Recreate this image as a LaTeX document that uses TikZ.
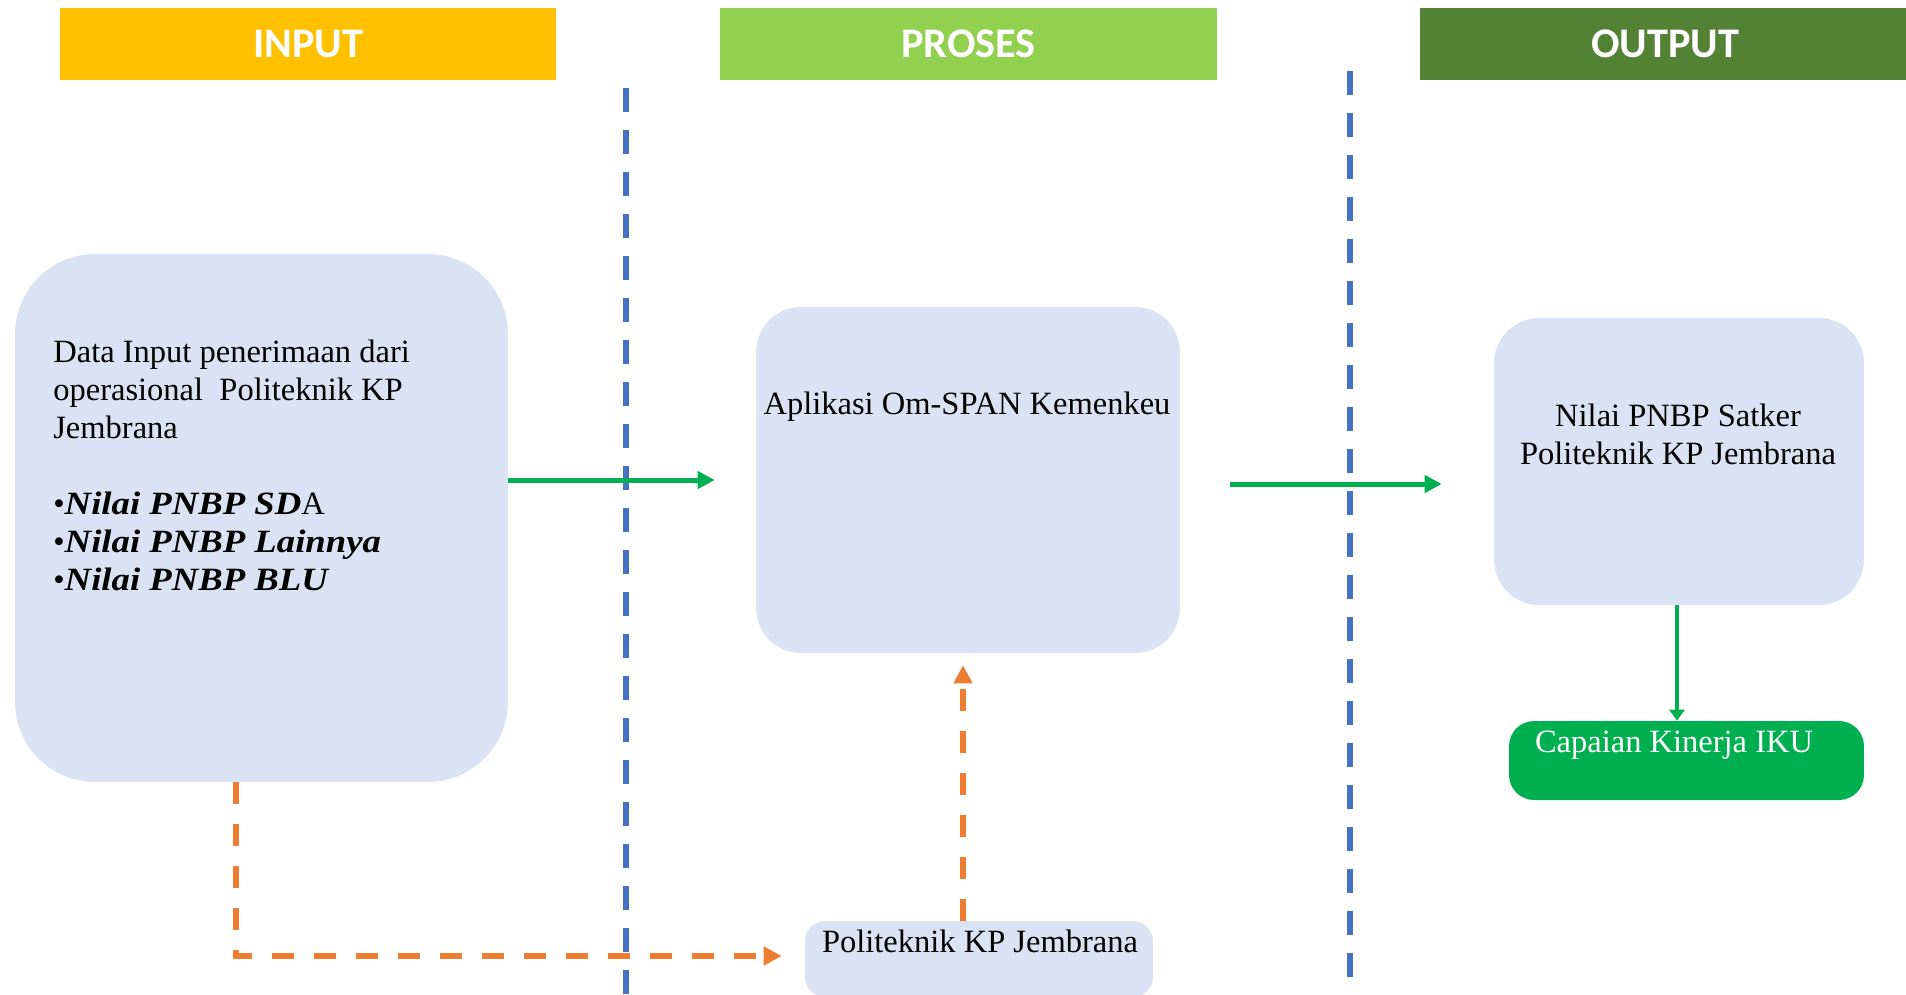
\documentclass[tikz,border=0pt]{standalone}
\usepackage{fontspec}
\setmainfont{Liberation Serif}
\newfontfamily\headfont{Carlito}
\newfontfamily\wideserif{Liberation Serif}[FakeStretch=1.13]
\usetikzlibrary{arrows.meta}
\definecolor{inputyellow}{HTML}{FFC000}
\definecolor{prosesgreen}{HTML}{92D050}
\definecolor{outgreen}{HTML}{548235}
\definecolor{boxblue}{HTML}{DAE3F3}
\definecolor{laneblue}{HTML}{4472C4}
\definecolor{flowgreen}{HTML}{00B050}
\definecolor{feedorange}{HTML}{ED7D31}
\begin{document}
\begin{tikzpicture}[x=0.02cm, y=-0.02cm,
                    every node/.style={inner sep=0pt},
                    headbox/.style={minimum height=1.44cm, text=white,
                                    font=\headfont\bfseries\fontsize{24}{28}\selectfont},
                    databox/.style={fill=boxblue},
                    bodytext/.style={font=\fontsize{18.5}{21.6}\selectfont},
                    lane/.style={draw=laneblue, line width=0.11cm,
                                 dash pattern=on 0.48cm off 0.36cm},
                    flow/.style={draw=flowgreen, line width=0.1cm,
                                 -{Triangle[length=0.34cm,width=0.34cm]}},
                    feed/.style={draw=feedorange, line width=0.12cm,
                                 dash pattern=on 0.44cm off 0.4cm,
                                 -{Triangle[length=0.36cm,width=0.36cm]}},]
    \clip (0,0) rectangle (1906,994);
    \node[headbox, fill=inputyellow, minimum width=9.92cm] (inhead) at (308,44) {INPUT};
    \node[headbox, fill=prosesgreen, minimum width=9.94cm] (prochead) at (968.5,44) {PROSES};
    \node[headbox, fill=outgreen, minimum width=9.8cm] (outhead) at (1665,44) {OUTPUT};
    \draw[lane] (626,88) -- (626,994);
    \draw[lane] (1350,71) -- (1350,977);
    \node[databox, rounded corners=1.6cm, minimum width=9.86cm, minimum height=10.56cm] (inbox) at (261.5,518) {};
    \node[databox, rounded corners=0.9cm, minimum width=8.48cm, minimum height=6.92cm] (procbox) at (968,480) {};
    \node[databox, rounded corners=0.9cm, minimum width=7.4cm, minimum height=5.74cm] (outbox) at (1679,461.5) {};
    \node[fill=flowgreen, rounded corners=0.5cm, minimum width=7.1cm, minimum height=1.58cm] (capbox) at (1686.5,760.5) {};
    \node[databox, rounded corners=0.4cm, minimum width=6.96cm, minimum height=1.52cm] (polbox) at (979,959) {};
    \node[bodytext, anchor=north west, align=left] (intext) at (53,340)
        {Data Input penerimaan dari\\operasional~ Politeknik KP\\Jembrana\\[21.6pt]
         •{\wideserif\bfseries\itshape Nilai PNBP SD}A\\•{\wideserif\bfseries\itshape Nilai PNBP Lainnya}\\•{\wideserif\bfseries\itshape Nilai PNBP BLU}};
    \node[bodytext, anchor=base] (proctext) at (967,414) {Aplikasi Om-SPAN Kemenkeu};
    \node[bodytext, anchor=north, align=center] (outtext) at (1678,404)
        {Nilai PNBP Satker\\Politeknik KP Jembrana};
    \node[bodytext, anchor=base, text=white] (captext) at (1674,752) {Capaian Kinerja IKU};
    \node[bodytext, anchor=base] (poltext) at (980,952) {Politeknik KP Jembrana};
    \draw[flow, shorten >=0.82cm] (inbox.east |- procbox.west) -- (procbox.west);
    \draw[flow, shorten <=1cm, shorten >=1.04cm] ([yshift=-0.08cm]procbox.east) -- ([yshift=-0.08cm]procbox.east -| outbox.west);
    \draw[flow, line width=0.08cm, -{Triangle[length=0.22cm,width=0.3cm]}] (outbox.south -| 1677,0) -- (capbox.north -| 1677,0);
    \draw[feed, shorten >=0.46cm] ([xshift=-0.51cm]inbox.south) |- ([yshift=0.06cm]polbox.west);
    \draw[feed, shorten >=0.24cm] ([xshift=-0.32cm]polbox.north) -- ([xshift=-0.32cm]polbox.north |- procbox.south);
\end{tikzpicture}
\end{document}
